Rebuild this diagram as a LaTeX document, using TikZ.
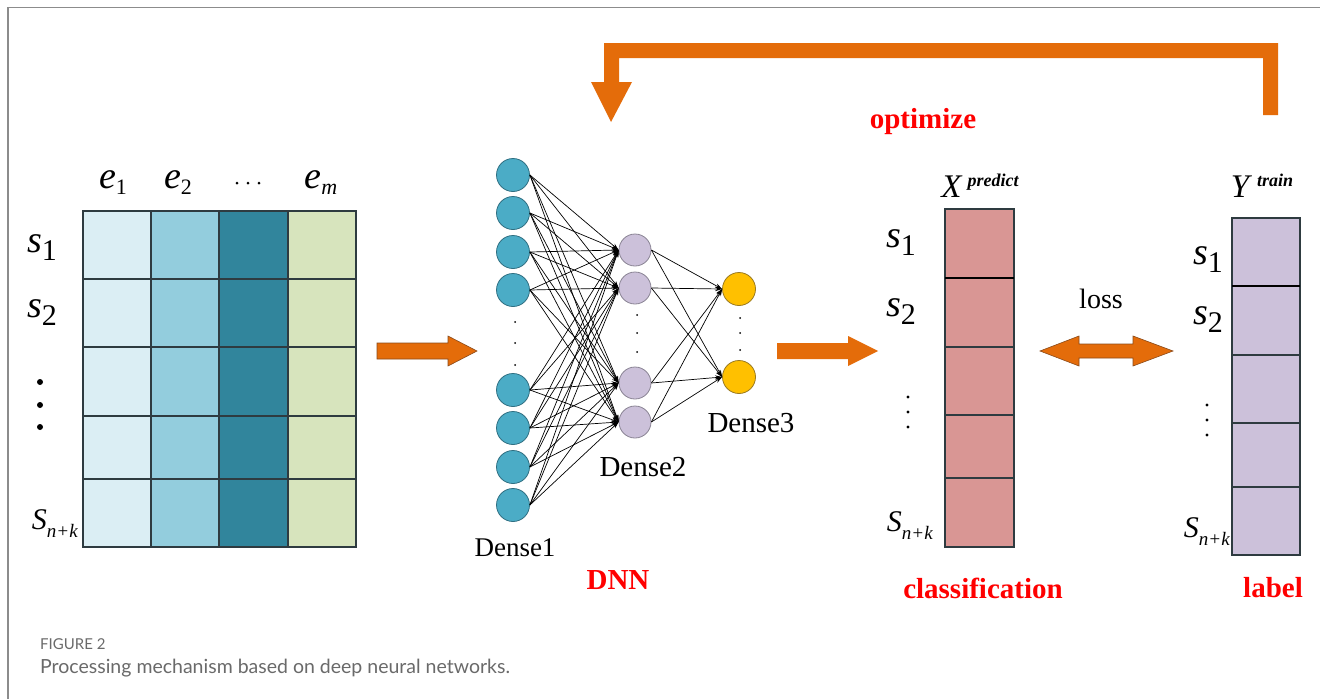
\documentclass[tikz,border=0pt]{standalone}
\usepackage{fontspec}
\setmainfont{Liberation Serif}
\newfontfamily\capfont{Lato}
\usetikzlibrary{arrows.meta}
\definecolor{orng}{HTML}{E46C0A}
\definecolor{orngd}{HTML}{8A4A1A}
\definecolor{colA}{HTML}{DBEEF4}
\definecolor{colB}{HTML}{93CDDD}
\definecolor{colC}{HTML}{31859C}
\definecolor{colD}{HTML}{D7E4BD}
\definecolor{gridc}{HTML}{2E3B40}
\definecolor{xfill}{HTML}{D99694}
\definecolor{yfill}{HTML}{CCC1DA}
\definecolor{nA}{HTML}{4BACC6}
\definecolor{nAd}{HTML}{2F6F82}
\definecolor{nB}{HTML}{CCC1DA}
\definecolor{nBd}{HTML}{8A8494}
\definecolor{nC}{HTML}{FFC000}
\definecolor{nCd}{HTML}{9A7A20}
\definecolor{framec}{HTML}{8C8C8C}
\definecolor{capc}{HTML}{6A6A6A}
\newcommand\fs[1]{\fontsize{#1}{#1}\selectfont}
\newcommand\sublab[5]{{\fs{#1}#2}\raisebox{-#5pt}{\fs{#3}#4}}
\begin{document}
\begin{tikzpicture}[x=1pt,y=-1pt,
  n1/.style={circle,draw=nAd,fill=nA,line width=0.8pt,minimum size=33pt,inner sep=0pt},
  n2/.style={circle,draw=nBd,fill=nB,line width=0.8pt,minimum size=32pt,inner sep=0pt},
  n3/.style={circle,draw=nCd,fill=nC,line width=0.8pt,minimum size=33pt,inner sep=0pt},
  conn/.style={-{Stealth[length=7pt,width=4.5pt]},line width=0.7pt,black},
  lab/.style={inner sep=0pt},
  redlab/.style={inner sep=0pt,text=red,font=\fs{29}\bfseries},
  grid/.style={draw=gridc,line width=1.1pt},
  bigarrow/.style={fill=orng},
  dotc/.style={fill=black}]
\useasboundingbox (0,0) rectangle (1320,699);
\fill[white] (0,0) rectangle (1320,699);
% frame
\draw[framec,line width=1.5pt] (8,699) -- (8,7.5) -- (1320,7.5);
% feedback arrow
\fill[bigarrow] (1263,115) -- (1278,115) -- (1278,43) -- (604,43) -- (604,82) -- (591,82)
  -- (611,122) -- (632,82) -- (619,82) -- (619,58) -- (1263,58) -- cycle;
\node[redlab] (opt) at (923,122) {optimize};
% input matrix
\fill[colA] (83,211) rectangle (151,547);
\fill[colB] (151,211) rectangle (219,547);
\fill[colC] (219,211) rectangle (288,547);
\fill[colD] (288,211) rectangle (356,547);
\draw[grid] (83,211) rectangle (356,547);
\foreach \x in {151,219,288} \draw[grid] (\x,211) -- (\x,547);
\foreach \y in {279,347,416,479} \draw[grid] (83,\y) -- (356,\y);
\node[lab] (e1) at (113,183) {\sublab{38}{\textit{e}}{22}{1}{6}};
\node[lab] (e2) at (178,183) {\sublab{38}{\textit{e}}{22}{2}{6}};
\foreach \x in {237,248,259} \fill[dotc] (\x,183) circle (1.5);
\node[lab] (em) at (321,183) {\sublab{38}{\textit{e}}{22}{\textit{m}}{6}};
\node[lab] (ls1) at (42,248) {\sublab{38}{\textit{s}}{30}{1}{8}};
\node[lab] (ls2) at (42,313) {\sublab{38}{\textit{s}}{30}{2}{8}};
\foreach \y in {382,405,427} \fill[dotc] (40,\y) circle (3);
\node[lab] (lsn) at (55,524) {\sublab{30}{\textit{S}}{19}{\textit{n+k}}{8}};
% arrow 1
\draw[bigarrow,draw=orngd,line width=0.6pt] (377,343) -- (448,343) -- (448,336) -- (477,351)
  -- (448,366) -- (448,359) -- (377,359) -- cycle;
% network
\foreach \y [count=\i] in {175,213,252,290,390,428,467,505} \node[n1] (a\i) at (513,\y) {};
\foreach \y [count=\i] in {250,288,383,422} \node[n2] (b\i) at (635,\y) {};
\foreach \y [count=\i] in {289,377} \node[n3] (c\i) at (739,\y) {};
\foreach \i in {1,...,8} \foreach \j in {1,...,4} \draw[conn] (a\i.east) -- (b\j.west);
\foreach \i in {1,...,4} \foreach \j in {1,2} \draw[conn] (b\i.east) -- (c\j.west);
\foreach \y in {322,343,365} \fill[dotc] (515,\y) circle (1);
\foreach \y in {315,333,352} \fill[dotc] (637,\y) circle (1);
\foreach \y in {318,333,350} \fill[dotc] (740,\y) circle (1);
\node[lab,font=\fs{27}] (l1) at (515,548) {Dense1};
\node[lab,font=\fs{29}] (l2) at (643,467) {Dense2};
\node[lab,font=\fs{29}] (l3) at (751,423) {Dense3};
\node[redlab] (dnn) at (618,580) {DNN};
% arrow 2
\fill[bigarrow] (777,343) -- (848,343) -- (848,336) -- (878,351)
  -- (848,366) -- (848,359) -- (777,359) -- cycle;
% X predict column
\fill[xfill] (945,209) rectangle (1014,547);
\draw[grid] (945,209) rectangle (1014,547);
\draw[black,line width=2pt] (945,278) -- (1014,278);
\foreach \y in {347,415,478} \draw[grid] (945,\y) -- (1014,\y);
\node[lab] (xp) at (980,186) {{\fs{33}\textit{X}}\kern5pt\raisebox{11pt}{\fs{18}\bfseries\itshape predict}};
\node[lab] (xs1) at (901,243) {\sublab{38}{\textit{s}}{30}{1}{8}};
\node[lab] (xs2) at (901,312) {\sublab{38}{\textit{s}}{30}{2}{8}};
\foreach \y in {397,412,427} \fill[dotc] (908,\y) circle (1.6);
\node[lab] (xsn) at (910,526) {\sublab{30}{\textit{S}}{19}{\textit{n+k}}{8}};
\node[redlab] (cls) at (983,588) {classification};
% loss arrow
\draw[bigarrow,draw=orngd,line width=0.6pt] (1040,351) -- (1079,336) -- (1079,344) -- (1133,344)
  -- (1133,336) -- (1173,351) -- (1133,366) -- (1133,358) -- (1079,358) -- (1079,366) -- cycle;
\node[lab,font=\fs{28}] (loss) at (1101,299) {loss};
% Y train column
\fill[yfill] (1232,218) rectangle (1300,555);
\draw[grid] (1232,218) rectangle (1300,555);
\draw[black,line width=2pt] (1232,286) -- (1300,286);
\foreach \y in {355,423,487} \draw[grid] (1232,\y) -- (1300,\y);
\node[lab] (yt) at (1262,186) {{\fs{33}\textit{Y}}\kern5pt\raisebox{11pt}{\fs{18}\bfseries\itshape train}};
\node[lab] (ys1) at (1208,260) {\sublab{38}{\textit{s}}{30}{1}{8}};
\node[lab] (ys2) at (1208,320) {\sublab{38}{\textit{s}}{30}{2}{8}};
\foreach \y in {405,420,435} \fill[dotc] (1207,\y) circle (1.6);
\node[lab] (ysn) at (1207,532) {\sublab{30}{\textit{S}}{19}{\textit{n+k}}{8}};
\node[redlab] (lbl) at (1273,588) {label};
% caption
\node[lab,anchor=base west,text=capc,font=\capfont\fs{15}] (fig) at (40,649) {FIGURE 2};
\node[lab,anchor=base west,text=capc,font=\capfont\fs{19.5}] (cap) at (40,673) {Processing mechanism based on deep neural networks.};
\end{tikzpicture}
\end{document}
